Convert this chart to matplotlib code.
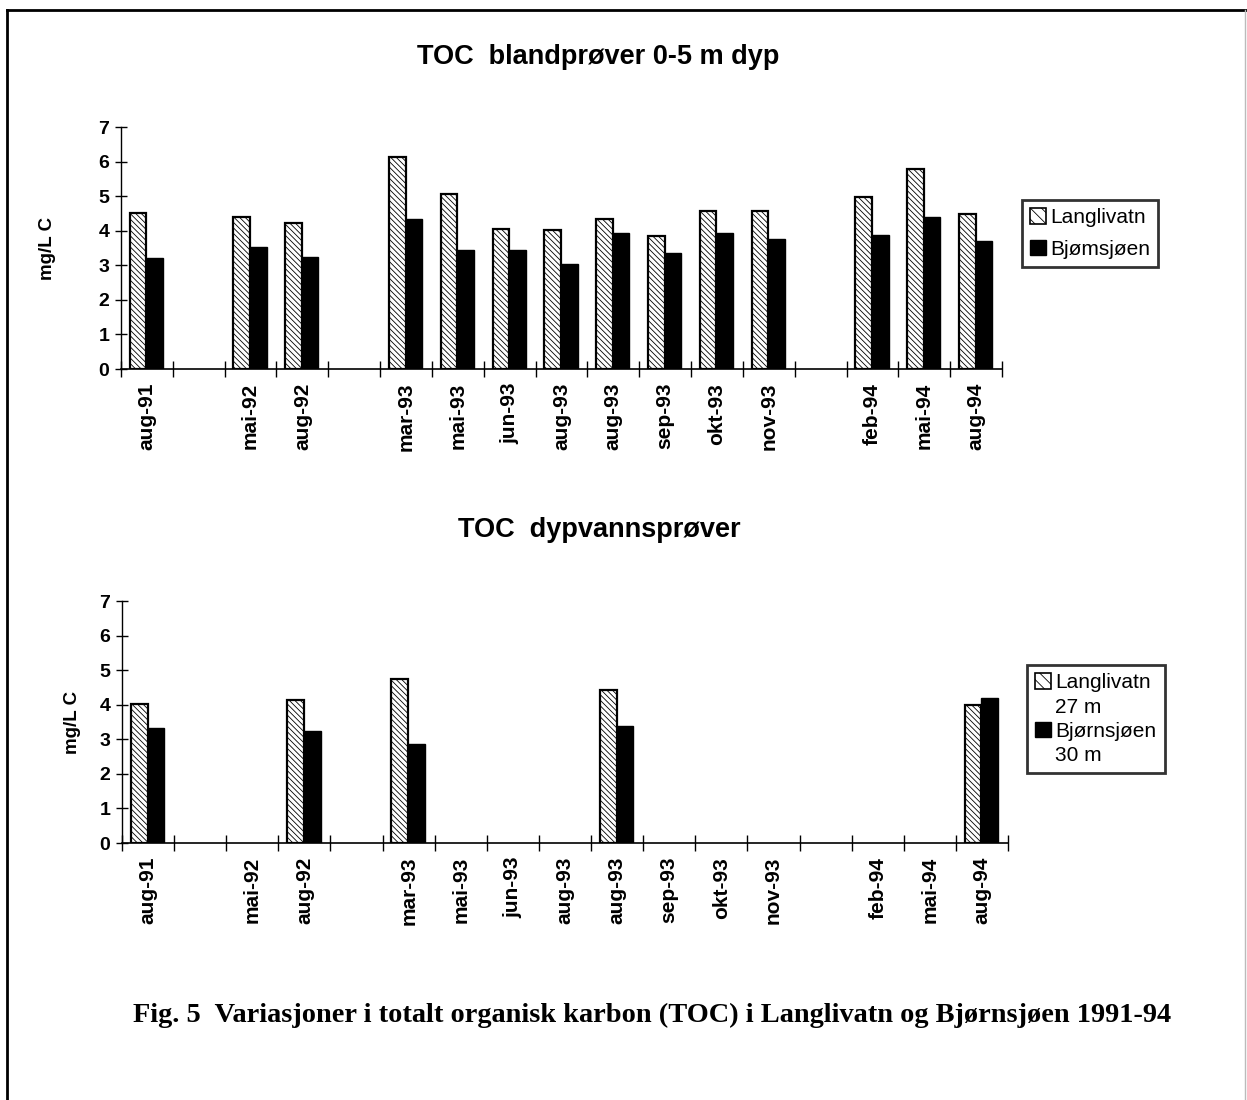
import matplotlib

matplotlib.use("Agg")
import matplotlib.pyplot as plt
import numpy as np
from matplotlib.lines import Line2D
from matplotlib.patches import Patch

plt.rcParams["font.family"] = ["Liberation Sans", "DejaVu Sans"]
plt.rcParams["hatch.linewidth"] = 0.6

# 17 slots on the category axis, blank ones are gaps in the time series
slots = ["aug-91", "", "mai-92", "aug-92", "", "mar-93", "mai-93", "jun-93", "aug-93",
         "aug-93", "sep-93", "okt-93", "nov-93", "", "feb-94", "mai-94", "aug-94"]

# mixed samples 0-5 m
top_langlivatn = [4.50, np.nan, 4.41, 4.22, np.nan, 6.14, 5.06, 4.05, 4.03,
                  4.33, 3.85, 4.57, 4.57, np.nan, 4.97, 5.79, 4.49]
top_bjornsjoen = [3.22, np.nan, 3.52, 3.24, np.nan, 4.34, 3.45, 3.45, 3.03,
                  3.94, 3.36, 3.94, 3.77, np.nan, 3.88, 4.39, 3.70]

# deep water samples
deep_langlivatn = [4.01, np.nan, np.nan, 4.13, np.nan, 4.74, np.nan, np.nan, np.nan,
                   4.43, np.nan, np.nan, np.nan, np.nan, np.nan, np.nan, 3.98]
deep_bjornsjoen = [3.32, np.nan, np.nan, 3.24, np.nan, 2.86, np.nan, np.nan, np.nan,
                   3.37, np.nan, np.nan, np.nan, np.nan, np.nan, np.nan, 4.20]
deep_labels = ["aug-91", "", "mai-92", "aug-92", "", "mar-93", "mai-93", "jun-93", "aug-93",
               "aug-93", "sep-93", "okt-93", "nov-93", "", "feb-94", "mai-94", "aug-94"]

HATCH = "\\" * 6
W, H = 1247, 1100


def draw_panel(ax, lang, bjorn, labels, legend_labels, legend_box, ylabel_x, spacing):
    x = np.arange(len(labels))
    bw = 0.32
    ax.bar(x - bw / 2 - 0.01, lang, bw, color="white", edgecolor="black",
           hatch=HATCH, linewidth=1.6)
    ax.bar(x + bw / 2 - 0.01, bjorn, bw, color="black", edgecolor="black", linewidth=1.0)

    ax.set_xlim(-0.5, len(labels) - 0.5)
    ax.set_ylim(0, 7)
    for side in ("top", "right"):
        ax.spines[side].set_visible(False)
    ax.spines["left"].set_linewidth(1.0)
    ax.spines["bottom"].set_linewidth(1.2)

    ax.set_yticks(range(8))
    ax.tick_params(axis="y", direction="inout", length=9, width=1.0, labelsize=14, pad=4)
    for t in ax.get_yticklabels():
        t.set_fontweight("bold")

    ax.set_xticks(x, labels, rotation=90, fontsize=15, fontweight="bold")
    ax.tick_params(axis="x", which="major", length=0, pad=10)
    ax.set_xticks(np.arange(len(labels) + 1) - 0.5, minor=True)
    ax.tick_params(axis="x", which="minor", direction="inout", length=12, width=1.0)

    ax.set_ylabel("mg/L C", fontsize=13.5, fontweight="bold")
    ax.yaxis.set_label_coords(ylabel_x, 0.5)

    blank = Patch(facecolor="none", edgecolor="none")
    handles = [Patch(facecolor="white", edgecolor="black", hatch="\\" * 3, linewidth=1.2),
               Patch(facecolor="black", edgecolor="black")]
    if len(legend_labels) == 4:
        handles = [handles[0], blank, handles[1], blank]
    leg = ax.legend(handles, legend_labels, loc="upper left", bbox_to_anchor=legend_box,
                    bbox_transform=ax.figure.transFigure, fontsize=15, frameon=True,
                    fancybox=False, edgecolor="black", handlelength=0.75, handleheight=0.75,
                    handletextpad=0.2, borderpad=0.4, labelspacing=spacing,
                    borderaxespad=0)
    leg.get_frame().set_linewidth(2.0)


fig = plt.figure(figsize=(W / 100, H / 100), dpi=100)

ax1 = fig.add_axes([121 / W, 1 - 369 / H, 881 / W, 242 / H])
draw_panel(ax1, top_langlivatn, top_bjornsjoen, slots,
           ["Langlivatn", "Bjømsjøen"], (1022 / W, 1 - 200 / H), -0.074, 0.6)

ax2 = fig.add_axes([122 / W, 1 - 843 / H, 886 / W, 242 / H])
draw_panel(ax2, deep_langlivatn, deep_bjornsjoen, deep_labels,
           ["Langlivatn", "27 m", "Bjørnsjøen", "30 m"], (1027 / W, 1 - 665 / H), -0.046, 0.25)

fig.text(598 / W, 1 - 57 / H, "TOC  blandprøver 0-5 m dyp", ha="center", va="center",
         fontsize=19.5, fontweight="bold")
fig.text(599 / W, 1 - 530 / H, "TOC  dypvannsprøver", ha="center", va="center",
         fontsize=19.5, fontweight="bold")
fig.text(133 / W, 1 - 1015 / H,
         "Fig. 5  Variasjoner i totalt organisk karbon (TOC) i Langlivatn og Bjørnsjøen 1991-94",
         ha="left", va="center", fontsize=20.4, fontweight="bold",
         family=["Liberation Serif", "DejaVu Serif"])

# page frame
fig.add_artist(Line2D([7 / W, 7 / W], [0, 1 - 10 / H], color="black", lw=2.0))
fig.add_artist(Line2D([7 / W, 1 - 1 / W], [1 - 10 / H, 1 - 10 / H], color="black", lw=2.0))
fig.add_artist(Line2D([1 - 2 / W, 1 - 2 / W], [0, 1 - 10 / H], color="#bbbbbb", lw=1.0))

fig.savefig("out.png", dpi=100, facecolor="white")
